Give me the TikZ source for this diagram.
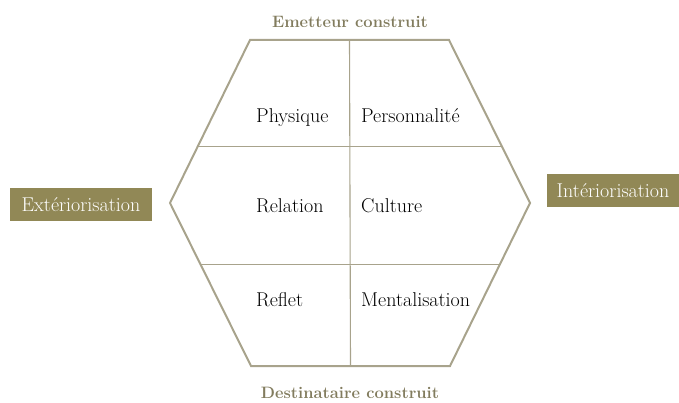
\documentclass[tikz,border=0pt]{standalone}
\usepackage{fontspec}
\usetikzlibrary{calc}

\definecolor{hexgray}{RGB}{168,163,140}
\definecolor{titleolive}{RGB}{130,124,94}
\definecolor{boxolive}{RGB}{145,136,86}

\begin{document}
\begin{tikzpicture}[x=1pt, y=-1pt,
  hexline/.style={draw=hexgray, line width=2pt, line join=miter},
  gridline/.style={draw=hexgray, line width=1.1pt},
  cell/.style={anchor=base west, inner sep=0pt, font=\fontsize{20}{22}\selectfont},
  heading/.style={text=titleolive, font=\bfseries\fontsize{16.5}{19}\selectfont},
  sidebox/.style={fill=boxolive, text=white, inner sep=0pt, minimum height=33pt,
    font=\fontsize{20}{22}\selectfont}]

  \useasboundingbox (0,0) rectangle (679,403);

  % Corners of the hexagon
  \coordinate (tl) at (250,40);
  \coordinate (tr) at (449,40);
  \coordinate (r)  at (530,203);
  \coordinate (br) at (450,366);
  \coordinate (bl) at (251,366);
  \coordinate (l)  at (170,203);

  % Inner grid: one vertical divider, two horizontal ones
  \draw[gridline] ($(tl)!0.5!(tr)$) -- ($(bl)!0.5!(br)$);
  \draw[gridline] ($(tl)!0.656!(l)$) -- ($(tr)!0.656!(r)$);
  \draw[gridline] ($(l)!0.38!(bl)$) -- ($(r)!0.38!(br)$);

  % Outline
  \draw[hexline] (tl) -- (tr) -- (r) -- (br) -- (bl) -- (l) -- cycle;

  % Cell labels
  \node[cell] (phys) at (256,123) {Physique};
  \node[cell] (pers) at (361,123) {Personnalité};
  \node[cell] (rel)  at (256,212) {Relation};
  \node[cell] (cult) at (361,212) {Culture};
  \node[cell] (refl) at (256,306) {Reflet};
  \node[cell] (ment) at (361,306) {Mentalisation};

  % Headings above and below
  \node[heading] (emit) at (350,22)  {Emetteur construit};
  \node[heading] (dest) at (350,393) {Destinataire construit};

  % Side boxes
  \node[sidebox, minimum width=142pt] (ext) at (81,204.5) {Extériorisation};
  \node[sidebox, minimum width=132pt] (int) at (613,191)   {Intériorisation};

\end{tikzpicture}
\end{document}
